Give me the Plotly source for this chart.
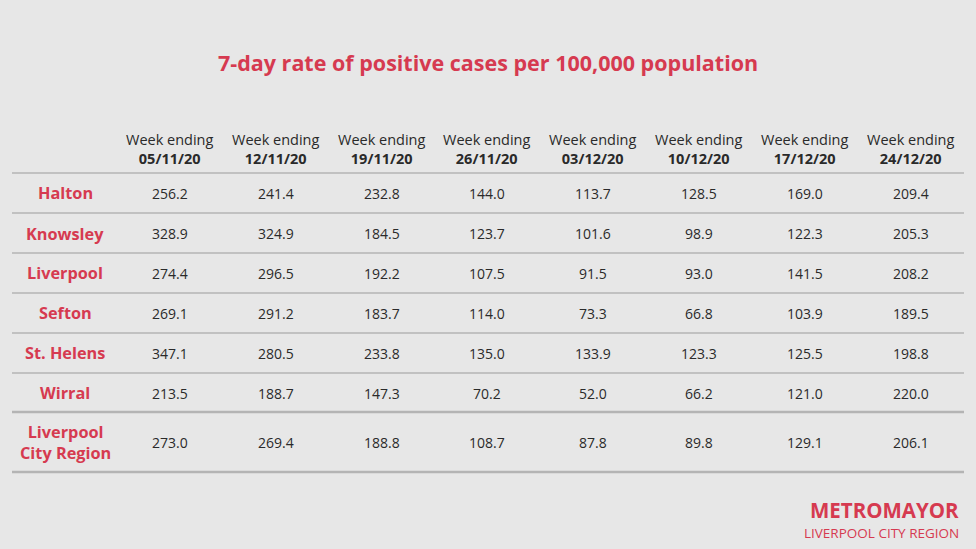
import plotly.graph_objects as go

title = "7-day rate of positive cases per 100,000 population"
weeks = ["05/11/20", "12/11/20", "19/11/20", "26/11/20", "03/12/20", "10/12/20", "17/12/20", "24/12/20"]
areas = ["Halton", "Knowsley", "Liverpool", "Sefton", "St. Helens", "Wirral", "Liverpool<br>City Region"]
halton = [256.2, 241.4, 232.8, 144.0, 113.7, 128.5, 169.0, 209.4]
knowsley = [328.9, 324.9, 184.5, 123.7, 101.6, 98.9, 122.3, 205.3]
liverpool = [274.4, 296.5, 192.2, 107.5, 91.5, 93.0, 141.5, 208.2]
sefton = [269.1, 291.2, 183.7, 114.0, 73.3, 66.8, 103.9, 189.5]
st_helens = [347.1, 280.5, 233.8, 135.0, 133.9, 123.3, 125.5, 198.8]
wirral = [213.5, 188.7, 147.3, 70.2, 52.0, 66.2, 121.0, 220.0]
lcr = [273.0, 269.4, 188.8, 108.7, 87.8, 89.8, 129.1, 206.1]
values = [halton, knowsley, liverpool, sefton, st_helens, wirral, lcr]

RED = "#d63a50"
BG = "#e7e7e7"
TXT = "#2a2a2a"
LINE = "#b4b4b4"
FONT = "Open Sans"

col_x0, col_step = 170, 105.8
label_x = 65
row_y = [193, 233.5, 273, 313, 353, 393, 442]
line_y = [173, 213, 253, 293, 333, 373, 412, 472]
line_w = [1.5, 1.5, 1.5, 1.5, 1.5, 1.5, 2.5, 2.5]

fig = go.Figure()
ann = []
ann.append(dict(x=488, y=62, text="<b>" + title + "</b>", font=dict(family=FONT, size=21.5, color=RED)))
for i, w in enumerate(weeks):
    x = col_x0 + i * col_step
    ann.append(dict(x=x, y=149, text="Week ending<br><b>" + w + "</b>",
                    font=dict(family=FONT, size=14.5, color=TXT)))
for r, (a, vals) in enumerate(zip(areas, values)):
    y = row_y[r]
    ann.append(dict(x=label_x, y=y, text="<b>" + a + "</b>",
                    font=dict(family=FONT, size=16.3, color=RED)))
    for i, v in enumerate(vals):
        ann.append(dict(x=col_x0 + i * col_step, y=y, text=f"{v:.1f}",
                        font=dict(family=FONT, size=14, color=TXT)))
ann.append(dict(x=961, y=509.5, xanchor="right", text="<b>METROMAYOR</b>",
                font=dict(family=FONT, size=20.5, color=RED)))
ann.append(dict(x=961, y=533, xanchor="right", text="LIVERPOOL CITY REGION",
                font=dict(family=FONT, size=13.5, color=RED)))
for a in ann:
    a.setdefault("xanchor", "center")
    a.update(xref="x", yref="y", showarrow=False, yanchor="middle")

shapes = [dict(type="line", xref="x", yref="y", x0=12, x1=964, y0=ly, y1=ly,
               line=dict(color=LINE, width=lw)) for ly, lw in zip(line_y, line_w)]

fig.update_layout(
    width=976, height=549, margin=dict(l=0, r=0, t=0, b=0),
    paper_bgcolor=BG, plot_bgcolor=BG,
    xaxis=dict(range=[0, 976], visible=False, fixedrange=True),
    yaxis=dict(range=[549, 0], visible=False, fixedrange=True),
    annotations=ann, shapes=shapes, showlegend=False,
)
fig.write_html("out.html", config={"displayModeBar": False},
               post_script="document.body.style.margin='0';document.body.style.background='#e7e7e7';")
